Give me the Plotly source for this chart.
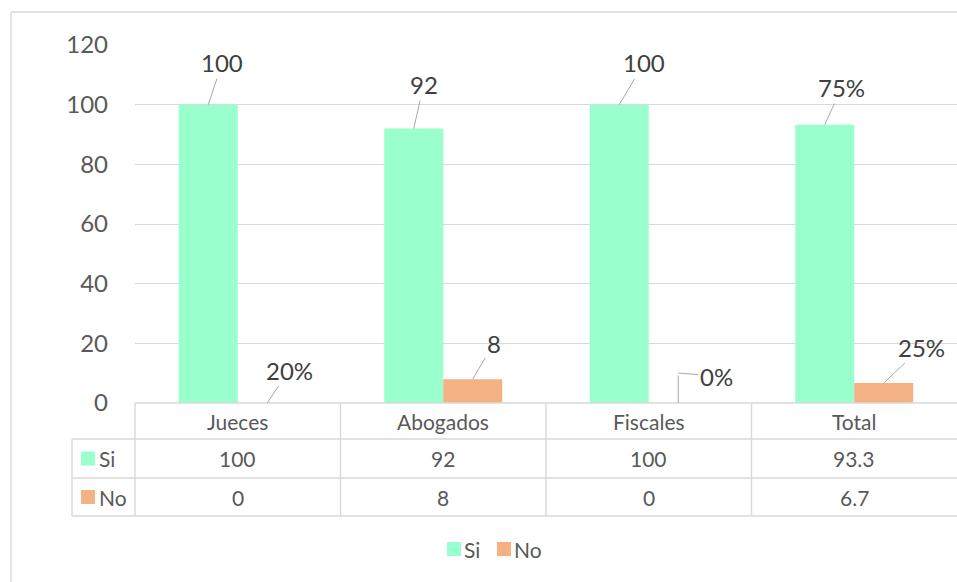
import plotly.graph_objects as go

# ---------------- data ----------------
categories = ["Jueces", "Abogados", "Fiscales", "Total"]
series_names = ["Si", "No"]
si_values = [100, 92, 100, 93.3]
no_values = [0, 8, 0, 6.7]
si_labels = ["100", "92", "100", "75%"]
no_labels = ["20%", "8", "0%", "25%"]
table_si = ["100", "92", "100", "93.3"]
table_no = ["0", "8", "0", "6.7"]
y_ticks = [0, 20, 40, 60, 80, 100, 120]

# ---------------- style ----------------
W, H = 957, 582
L, R, T, B = 135, 0, 45, 179
PW, PH = W - L - R, H - T - B
C_SI = "#99FFCC"
C_NO = "#F4B183"
GRID = "#D9D9D9"
TXT = "#595959"
LBL = "#404040"
FONT = "Lato"
BARGAP = 0.426
bw = (1 - BARGAP) / 2  # width of one bar in category units


def py(p):  # pixel y -> paper y
    return (H - B - p) / PH


def pxp(p):  # pixel x -> paper x
    return (p - L) / PW


def cat_paper(pos):  # category position -> paper x (range [-0.5, n-0.5])
    return (pos + 0.5) / len(categories)


fig = go.Figure()
fig.add_trace(go.Bar(x=categories, y=si_values, name=series_names[0],
                     marker=dict(color=C_SI, line=dict(width=0))))
fig.add_trace(go.Bar(x=categories, y=no_values, name=series_names[1],
                     marker=dict(color=C_NO, line=dict(width=0))))

annotations = []
shapes = []

# data labels with leader lines (offsets in pixels)
si_off = [(14, -42), (10, -44), (25, -42), (17, -37)]
no_off = [(22, -33), (21, -36), None, (38, -36)]
for i, c in enumerate(categories):
    ax, ay = si_off[i]
    annotations.append(dict(x=i - bw / 2, y=si_values[i], xref="x", yref="y",
                            text=si_labels[i], showarrow=True, arrowhead=0,
                            arrowwidth=1, arrowcolor="#A6A6A6", ax=ax, ay=ay,
                            font=dict(family=FONT, size=24, color=LBL)))
    if no_off[i] is not None:
        ax, ay = no_off[i]
        annotations.append(dict(x=i + bw / 2, y=no_values[i], xref="x", yref="y",
                                text=no_labels[i], showarrow=True, arrowhead=0,
                                arrowwidth=1, arrowcolor="#A6A6A6", ax=ax, ay=ay,
                                font=dict(family=FONT, size=24, color=LBL)))
    else:
        # elbow leader: vertical piece then horizontal piece
        annotations.append(dict(x=i + bw / 2, y=no_values[i], xref="x", yref="y",
                                text=" ", showarrow=True, arrowhead=0,
                                arrowwidth=1, arrowcolor="#A6A6A6", ax=0, ay=-30,
                                font=dict(family=FONT, size=2, color=LBL)))
        annotations.append(dict(x=i + bw / 2, y=no_values[i], xref="x", yref="y",
                                yshift=30, text=no_labels[i], showarrow=True,
                                arrowhead=0, arrowwidth=1, arrowcolor="#A6A6A6",
                                ax=38, ay=3,
                                font=dict(family=FONT, size=24, color=LBL)))

# ---------------- data table ----------------
row_px = [H - B, 439, 478, 516]  # row boundaries (pixels)
left_col_px = 72
line = dict(color=GRID, width=1.4)
shapes.append(dict(type="line", xref="paper", yref="paper", x0=0, x1=1,
                   y0=py(row_px[0]), y1=py(row_px[0]), line=line))
for rp in row_px[1:]:
    shapes.append(dict(type="line", xref="paper", yref="paper", x0=pxp(left_col_px),
                       x1=1, y0=py(rp), y1=py(rp), line=line))
for k in range(len(categories)):
    shapes.append(dict(type="line", xref="paper", yref="paper", x0=cat_paper(k - 0.5),
                       x1=cat_paper(k - 0.5), y0=py(row_px[0]), y1=py(row_px[-1]),
                       line=line))
shapes.append(dict(type="line", xref="paper", yref="paper", x0=pxp(left_col_px),
                   x1=pxp(left_col_px), y0=py(row_px[1]), y1=py(row_px[-1]), line=line))

tfont = dict(family=FONT, size=21, color=TXT)
for i, c in enumerate(categories):
    for r, txt in enumerate([c, table_si[i], table_no[i]]):
        annotations.append(dict(x=i, xref="x", y=py((row_px[r] + row_px[r + 1]) / 2),
                                yref="paper", text=txt, showarrow=False,
                                xanchor="center", yanchor="middle", font=tfont))

# legend keys inside table
for r, (name, col) in enumerate(zip(series_names, [C_SI, C_NO])):
    yc = (row_px[1 + r] + row_px[2 + r]) / 2
    shapes.append(dict(type="rect", xref="paper", yref="paper", x0=pxp(81), x1=pxp(95),
                       y0=py(yc + 7), y1=py(yc - 7), fillcolor=col, line=dict(width=0)))
    annotations.append(dict(x=pxp(97), xref="paper", y=py(yc), yref="paper", text=name,
                            xanchor="left", yanchor="middle", showarrow=False, font=tfont))

# bottom legend
leg_y = 549
for name, col, x0 in zip(series_names, [C_SI, C_NO], [447, 497]):
    shapes.append(dict(type="rect", xref="paper", yref="paper", x0=pxp(x0), x1=pxp(x0 + 14),
                       y0=py(leg_y + 7), y1=py(leg_y - 7), fillcolor=col, line=dict(width=0)))
    annotations.append(dict(x=pxp(x0 + 15), xref="paper", y=py(leg_y), yref="paper",
                            text=name, xanchor="left", yanchor="middle",
                            showarrow=False, font=tfont))

# chart outer border
shapes.append(dict(type="line", xref="paper", yref="paper", x0=pxp(11), x1=pxp(11),
                   y0=py(12), y1=py(H + 5), line=dict(color=GRID, width=1.4)))
shapes.append(dict(type="line", xref="paper", yref="paper", x0=pxp(11), x1=pxp(W + 5),
                   y0=py(12), y1=py(12), line=dict(color=GRID, width=1.4)))

fig.update_layout(
    width=W, height=H,
    margin=dict(l=L, r=R, t=T, b=B, pad=0),
    paper_bgcolor="white", plot_bgcolor="white",
    barmode="group", bargap=BARGAP, bargroupgap=0,
    showlegend=False,
    font=dict(family=FONT, color=TXT),
    xaxis=dict(range=[-0.5, len(categories) - 0.5], showticklabels=False,
               showgrid=False, zeroline=False, showline=False, ticks=""),
    yaxis=dict(range=[0, 120], tickvals=y_ticks, showgrid=True, gridcolor=GRID,
               gridwidth=1.4, zeroline=False, showline=False, ticks="",
               ticklabelstandoff=26, tickfont=dict(family=FONT, size=24, color=TXT)),
    annotations=annotations,
    shapes=shapes,
)

fig.write_html("out.html", config={"displayModeBar": False},
               post_script="document.body.style.margin='0';document.body.style.overflow='hidden';")
